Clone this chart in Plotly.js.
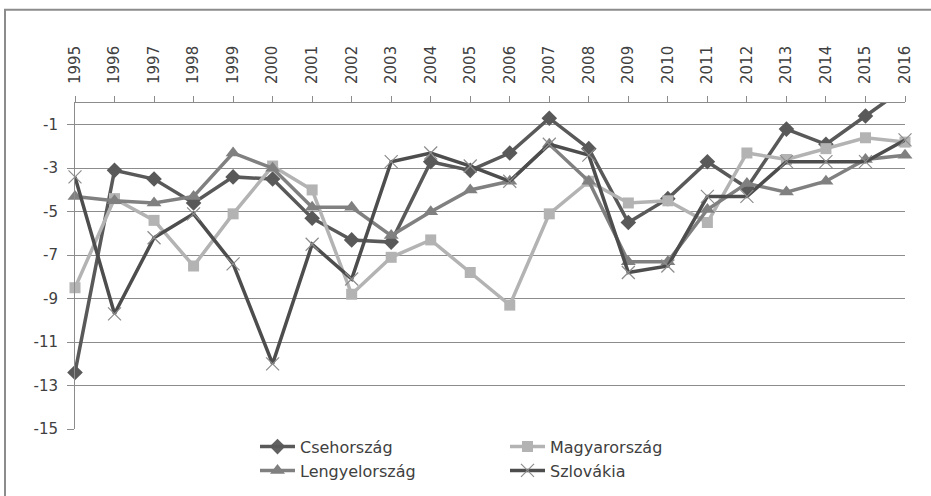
<!DOCTYPE html>
<html>
<head>
<meta charset="utf-8">
<script src="https://cdn.plot.ly/plotly-3.0.1.min.js"></script>
<style>
  html, body { margin: 0; padding: 0; background: #ffffff; }
  #chart { width: 931px; height: 496px; }
</style>
</head>
<body>
<div id="chart"></div>
<script>
const years = ["1995","1996","1997","1998","1999","2000","2001","2002","2003","2004","2005","2006","2007","2008","2009","2010","2011","2012","2013","2014","2015","2016"];
const csehorszag   = [-12.4, -3.1, -3.5, -4.6, -3.4, -3.5, -5.3, -6.3, -6.4, -2.7, -3.1, -2.3, -0.7, -2.1, -5.5, -4.4, -2.7, -3.9, -1.2, -1.9, -0.6, 0.7];
const magyarorszag = [-8.5, -4.4, -5.4, -7.5, -5.1, -2.9, -4.0, -8.8, -7.1, -6.3, -7.8, -9.3, -5.1, -3.6, -4.6, -4.5, -5.5, -2.3, -2.6, -2.1, -1.6, -1.8];
const lengyelorszag= [-4.3, -4.5, -4.6, -4.3, -2.3, -3.0, -4.8, -4.8, -6.1, -5.0, -4.0, -3.6, -1.9, -3.6, -7.3, -7.3, -4.9, -3.7, -4.1, -3.6, -2.6, -2.4];
const szlovakia    = [-3.4, -9.7, -6.2, -5.1, -7.4, -12.0, -6.5, -8.1, -2.7, -2.3, -2.9, -3.6, -1.9, -2.4, -7.8, -7.5, -4.3, -4.3, -2.7, -2.7, -2.7, -1.7];
const seriesNames = ["Csehország", "Magyarország", "Lengyelország", "Szlovákia"];
const yTicks = [-15, -13, -11, -9, -7, -5, -3, -1];
const yMin = -15, yMax = 0;

// hide markers that fall outside the visible range (Excel clips them)
const visOpacity = arr => arr.map(v => (v > yMax || v < yMin) ? 0 : 1);

const traces = [
  {
    x: years, y: csehorszag, name: seriesNames[0], type: "scatter", mode: "lines+markers",
    line: { color: "#595959", width: 3.5 },
    marker: { symbol: "diamond", size: 12, color: "#595959", opacity: visOpacity(csehorszag) },
    cliponaxis: false, legend: "legend"
  },
  {
    x: years, y: magyarorszag, name: seriesNames[1], type: "scatter", mode: "lines+markers",
    line: { color: "#b3b3b3", width: 3.5 },
    marker: { symbol: "square", size: 11, color: "#b3b3b3" },
    cliponaxis: false, legend: "legend2"
  },
  {
    x: years, y: lengyelorszag, name: seriesNames[2], type: "scatter", mode: "lines+markers",
    line: { color: "#808080", width: 3.5 },
    marker: { symbol: "triangle-up", size: 13, color: "#808080" },
    cliponaxis: false, legend: "legend"
  },
  {
    x: years, y: szlovakia, name: seriesNames[3], type: "scatter", mode: "lines+markers",
    line: { color: "#4d4d4d", width: 3.5 },
    marker: { symbol: "x-thin", size: 13, color: "#8c8c8c", line: { color: "#8c8c8c", width: 1.2 } },
    cliponaxis: false, legend: "legend2"
  }
];

const plotTop = 103.3, plotBottom = 429.3, plotLeft = 75, plotRight = 905;
const ph = plotBottom - plotTop, pw = plotRight - plotLeft;

const legendFont = { size: 16, family: "DejaVu Sans, sans-serif", color: "#404040" };
const legendBase = {
  orientation: "v", xanchor: "left", yanchor: "top",
  y: -(430 - plotBottom) / ph,
  font: legendFont, itemwidth: 35, tracegroupgap: 0,
  bgcolor: "rgba(0,0,0,0)", borderwidth: 0
};

const layout = {
  width: 931, height: 496,
  margin: { l: plotLeft, r: 931 - plotRight, t: plotTop, b: 496 - plotBottom, pad: 0, autoexpand: false },
  paper_bgcolor: "#ffffff", plot_bgcolor: "#ffffff",
  font: { family: "DejaVu Sans, sans-serif", color: "#404040" },
  showlegend: true,
  xaxis: {
    type: "category", side: "top", range: [0, years.length - 1],
    showline: true, linecolor: "#8c8c8c", linewidth: 1,
    ticks: "outside", ticklen: 6, tickcolor: "#8c8c8c",
    tickangle: -90, tickfont: { size: 15, family: "DejaVu Sans, sans-serif", color: "#404040" },
    ticklabelstandoff: 9,
    showgrid: false, zeroline: false, fixedrange: true
  },
  yaxis: {
    range: [yMin, yMax], tickvals: yTicks, ticktext: yTicks.map(String),
    showline: true, linecolor: "#8c8c8c", linewidth: 1,
    ticks: "outside", ticklen: 7, tickcolor: "#8c8c8c",
    showgrid: true, gridcolor: "#8c8c8c", gridwidth: 1,
    zeroline: false, tickfont: { size: 15, family: "DejaVu Sans, sans-serif", color: "#404040" },
    ticklabelstandoff: 6, fixedrange: true
  },
  legend: Object.assign({}, legendBase, { x: (255 - plotLeft) / pw }),
  legend2: Object.assign({}, legendBase, { x: (505 - plotLeft) / pw }),
  shapes: [
    { type: "rect", xref: "paper", yref: "paper",
      x0: (5 - plotLeft) / pw, x1: (1000 - plotLeft) / pw,
      y0: (plotBottom - 560) / ph, y1: (plotBottom - 10) / ph,
      line: { color: "#8c8c8c", width: 2 }, fillcolor: "rgba(0,0,0,0)", layer: "below" }
  ]
};

Plotly.newPlot("chart", traces, layout, { displayModeBar: false, staticPlot: true });
</script>
</body>
</html>
